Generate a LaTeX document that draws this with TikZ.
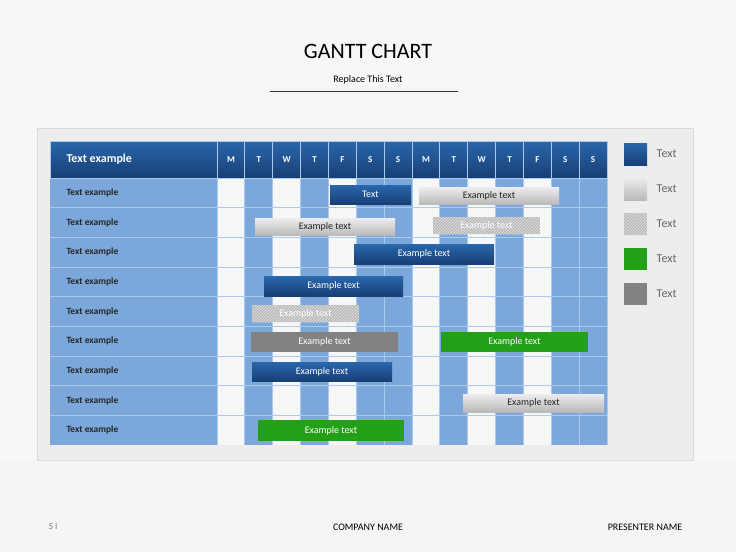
\documentclass[tikz,border=0pt]{standalone}
\usepackage{fontspec}
\setmainfont{Carlito}
\usetikzlibrary{patterns}
\definecolor{cellblue}{HTML}{7BA7DA}
\definecolor{cellwhite}{HTML}{F7F7F7}
\definecolor{hdrtop}{HTML}{2A67AD}
\definecolor{hdrbot}{HTML}{173F75}
\definecolor{gridline}{HTML}{A9CBEF}
\definecolor{barblue}{HTML}{1E5396}
\definecolor{bargreen}{HTML}{23A017}
\definecolor{bargray}{HTML}{828282}
\tikzset{
  hdr/.style={top color=hdrtop,bottom color=hdrbot,draw=gridline,line width=0.8pt},
  daytxt/.style={text=white,font=\bfseries\fontsize{9}{10}\selectfont},
  rowlbl/.style={anchor=west,font=\bfseries\fontsize{9.5}{11}\selectfont,text=black!85},
  bluebar/.style={draw=none,top color=hdrtop,bottom color=hdrbot,text=white,font=\fontsize{10}{12}\selectfont},
  graybar/.style={draw=none,top color=gray!15,bottom color=gray!55,text=black!85,font=\fontsize{10}{12}\selectfont},
  hatchbar/.style={draw=none,fill=gray!55,postaction={pattern=north east lines,pattern color=white!80!gray},text=white,font=\fontsize{10}{12}\selectfont},
  greenbar/.style={draw=none,fill=bargreen,text=white,font=\fontsize{10}{12}\selectfont},
  dgraybar/.style={draw=none,fill=bargray,text=white,font=\fontsize{10}{12}\selectfont},
  legtxt/.style={anchor=west,text=black!60,font=\fontsize{12}{14}\selectfont},
}
\begin{document}
\begin{tikzpicture}[x=1pt,y=-1pt]
\fill[white!96!black] (0,0) rectangle (736,552);
\useasboundingbox (0,0) rectangle (736,552);
\fill[black!3] (0,0) rectangle (736,460);
% title
\node (title) at (368,51) {\fontsize{22}{26}\selectfont GANTT CHART};
\node (sub) at (368,80) {\fontsize{10}{12}\selectfont Replace This Text};
\coordinate (l1) at (270,91); \coordinate (l2) at (458,91);
\draw[black!80,line width=0.8pt] (l1) -- (l2);
% panel
\draw[black!15,fill=black!7] (37,128) rectangle (693,460);
% label column
\foreach \r in {0,...,8} {
  \fill[cellblue] (50,{178+29.67*\r}) rectangle (217,{178+29.67*(\r+1)});
}
% day columns
\foreach \c/\col in {0/cellwhite,1/cellblue,2/cellwhite,3/cellblue,4/cellwhite,5/cellblue,6/cellblue,7/cellwhite,8/cellblue,9/cellwhite,10/cellblue,11/cellwhite,12/cellblue,13/cellblue} {
  \fill[\col] ({217+27.86*\c},178) rectangle ({217+27.86*(\c+1)},445);
}
% grid lines
\foreach \r in {1,...,8} \draw[gridline,line width=1pt] (50,{178+29.67*\r}) -- (607,{178+29.67*\r});
\foreach \c in {0,...,14} \draw[gridline,line width=1pt] ({217+27.86*\c},178) -- ({217+27.86*\c},445);
% header
\node[hdr,minimum width=167pt,minimum height=37pt,inner sep=0pt] (h0) at (133.5,159.5) {};
\node[anchor=west,text=white,font=\bfseries\fontsize{12}{14}\selectfont] (h0t) at (63,159.5) {Text example};
\foreach \d [count=\i from 0] in {M,T,W,T,F,S,S,M,T,W,T,F,S,S} {
  \node[hdr,minimum width=27.86pt,minimum height=37pt,inner sep=0pt,daytxt] (d\i) at ({217+27.86*\i+13.93},159.5) {\d};
}
\foreach \r in {0,...,8} \node[rowlbl] (r\r) at (63,{178+29.67*\r+14.8}) {Text example};
% bars
\node[bluebar,minimum width=81pt,minimum height=19pt,inner sep=0pt] (b1) at (370.5,194.5) {Text};
\node[graybar,minimum width=140pt,minimum height=17pt,inner sep=0pt] (b2) at (489,196) {Example text};
\node[graybar,minimum width=140pt,minimum height=17pt,inner sep=0pt] (b3) at (325,227) {Example text};
\node[hatchbar,minimum width=107pt,minimum height=17pt,inner sep=0pt] (b4) at (486.5,225.5) {Example text};
\node[bluebar,minimum width=140pt,minimum height=20pt,inner sep=0pt] (b5) at (424,254) {Example text};
\node[bluebar,minimum width=139pt,minimum height=20pt,inner sep=0pt] (b6) at (333.5,286) {Example text};
\node[hatchbar,minimum width=107pt,minimum height=17pt,inner sep=0pt] (b7) at (305.5,313.5) {Example text};
\node[dgraybar,minimum width=147pt,minimum height=20pt,inner sep=0pt] (b8) at (324.5,342) {Example text};
\node[greenbar,minimum width=147pt,minimum height=20pt,inner sep=0pt] (b9) at (514.5,342) {Example text};
\node[bluebar,minimum width=140pt,minimum height=19pt,inner sep=0pt] (b10) at (322,371.5) {Example text};
\node[graybar,minimum width=141pt,minimum height=18pt,inner sep=0pt] (b11) at (533.5,403) {Example text};
\node[greenbar,minimum width=146pt,minimum height=21pt,inner sep=0pt] (b12) at (331,430.5) {Example text};
% legend
\node[bluebar,minimum width=23pt,minimum height=22pt,inner sep=0pt] (g1) at (635.5,154) {};
\node[graybar,minimum width=23pt,minimum height=22pt,inner sep=0pt] (g2) at (635.5,189) {};
\node[hatchbar,minimum width=23pt,minimum height=22pt,inner sep=0pt] (g3) at (635.5,224) {};
\node[greenbar,minimum width=23pt,minimum height=22pt,inner sep=0pt] (g4) at (635.5,259) {};
\node[dgraybar,minimum width=23pt,minimum height=22pt,inner sep=0pt] (g5) at (635.5,294) {};
\foreach \i in {1,...,5} \node[legtxt] (gt\i) at ([xshift=6pt]g\i.east) {Text};
% footer
\node[text=black!55,font=\fontsize{9}{11}\selectfont] (f1) at (53,527) {5 I};
\node[font=\fontsize{10}{12}\selectfont] (f2) at (368,527) {COMPANY NAME};
\node[font=\fontsize{10}{12}\selectfont] (f3) at (645,527) {PRESENTER NAME};
\end{tikzpicture}
\end{document}
